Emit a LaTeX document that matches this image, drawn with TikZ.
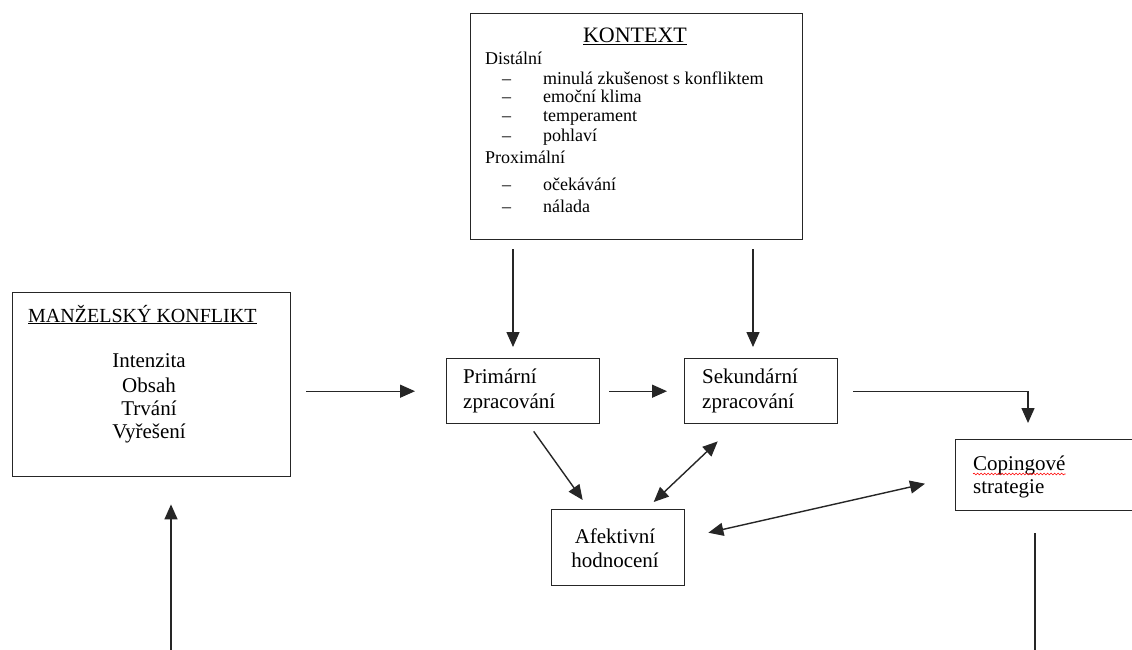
\documentclass[tikz,border=0pt]{standalone}
\usepackage{fontspec}
\setmainfont{Liberation Serif}
\usetikzlibrary{arrows.meta,decorations.pathmorphing}
\begin{document}
\begin{tikzpicture}[x=1pt,y=-1pt,
  box/.style={draw=black!85, line width=1.4pt, inner sep=0pt, anchor=north west},
  arr/.style={draw=black!85, line width=1.4pt, -{Triangle[length=15pt,width=13pt]}},
  darr/.style={draw=black!85, line width=1.4pt, {Triangle[length=15pt,width=13pt]}-{Triangle[length=15pt,width=13pt]}},
  ln/.style={draw=black!85, line width=1.4pt},
  lt/.style={anchor=base west, inner sep=0pt, font=\fontsize{18}{20}\selectfont},
  bt/.style={anchor=base west, inner sep=0pt, font=\fontsize{21}{24}\selectfont},
  ct/.style={anchor=base, inner sep=0pt, font=\fontsize{21}{24}\selectfont}]
\useasboundingbox (0,0) rectangle (1132,650);
\clip (0,0) rectangle (1132,650);
\fill[white] (0,0) rectangle (1132,650);

% boxes
\node[box, minimum width=332pt, minimum height=226pt] (ctx) at (470,13) {};
\node[box, minimum width=278pt, minimum height=184pt] (mz) at (12,292) {};
\node[box, minimum width=153pt, minimum height=65pt] (pri) at (446,358) {};
\node[box, minimum width=153pt, minimum height=65pt] (sek) at (684,358) {};
\node[box, minimum width=133pt, minimum height=76pt] (afk) at (551,509) {};
\node[box, minimum width=200pt, minimum height=71pt] (cop) at (955,439) {};

% KONTEXT text
\node[anchor=base, inner sep=0pt, font=\fontsize{22}{24}\selectfont] (t0) at (635,43) {\underline{KONTEXT}};
\node[lt] (t1) at (485,65) {Distální};
\node[lt] (d1) at (502,85) {–};
\node[lt] (i1) at (543,85) {minulá zkušenost s konfliktem};
\node[lt] (d2) at (502,103) {–};
\node[lt] (i2) at (543,103) {emoční klima};
\node[lt] (d3) at (502,122) {–};
\node[lt] (i3) at (543,122) {temperament};
\node[lt] (d4) at (502,142) {–};
\node[lt] (i4) at (543,142) {pohlaví};
\node[lt] (t2) at (485,164) {Proximální};
\node[lt] (d5) at (502,190) {–};
\node[lt] (i5) at (543,190) {očekávání};
\node[lt] (d6) at (502,212) {–};
\node[lt] (i6) at (543,212) {nálada};

% MANZELSKY KONFLIKT text
\node[bt, font=\fontsize{20}{24}\selectfont] (m0) at (28,322) {\underline{MANŽELSKÝ KONFLIKT}};
\node[ct] (m1) at (149,367) {Intenzita};
\node[ct] (m2) at (149,392) {Obsah};
\node[ct] (m3) at (149,415) {Trvání};
\node[ct] (m4) at (149,438) {Vyřešení};

% other texts
\node[bt] (p1) at (463,383) {Primární};
\node[bt] (p2) at (463,408) {zpracování};
\node[bt] (s1) at (702,383) {Sekundární};
\node[bt] (s2) at (702,408) {zpracování};
\node[ct] (a1) at (615,543) {Afektivní};
\node[ct] (a2) at (615,567) {hodnocení};
\node[bt] (c1) at (973,470) {Copingové};
\node[bt] (c2) at (973,493) {strategie};
\draw[red, line width=0.6pt, decorate, decoration={snake, amplitude=0.9pt, segment length=3.5pt}]
  ([yshift=-4pt]c1.base west) -- ([yshift=-4pt]c1.base east);

% helper coordinates
\coordinate (k1) at (513,0);
\coordinate (k2) at (753,0);
\coordinate (k3) at (1028,0);
\coordinate (k4) at (1035,0);
\coordinate (bot1) at (1035,660);
\coordinate (bot2) at (171,660);

% connectors
\draw[arr, shorten <=9pt, shorten >=11pt] (ctx.south -| k1) -- (pri.north -| k1);
\draw[arr, shorten <=9pt, shorten >=11pt] (ctx.south -| k2) -- (sek.north -| k2);
\draw[arr, shorten <=15pt, shorten >=31pt] (mz.east |- pri.west) -- (pri.west);
\draw[arr, shorten <=9pt, shorten >=17pt] (pri.east) -- (sek.west);
\draw[arr, shorten <=15pt, shorten >=16pt] (sek.east) -| (cop.north -| k3);
\draw[arr] ([shift={(10.5,7)}]pri.south) -- ([shift={(-35.5,-9)}]afk.north);
\draw[darr] ([shift={(-43.5,17)}]sek.south) -- ([shift={(35.5,-7)}]afk.north);
\draw[darr] ([shift={(23,-15)}]afk.east) -- ([shift={(-30,8.5)}]cop.west);
\draw[ln, shorten <=22pt] (cop.south -| k4) -- (bot1);
\draw[arr, shorten >=27pt] (bot2) -- (mz.south -| bot2);
\end{tikzpicture}
\end{document}
